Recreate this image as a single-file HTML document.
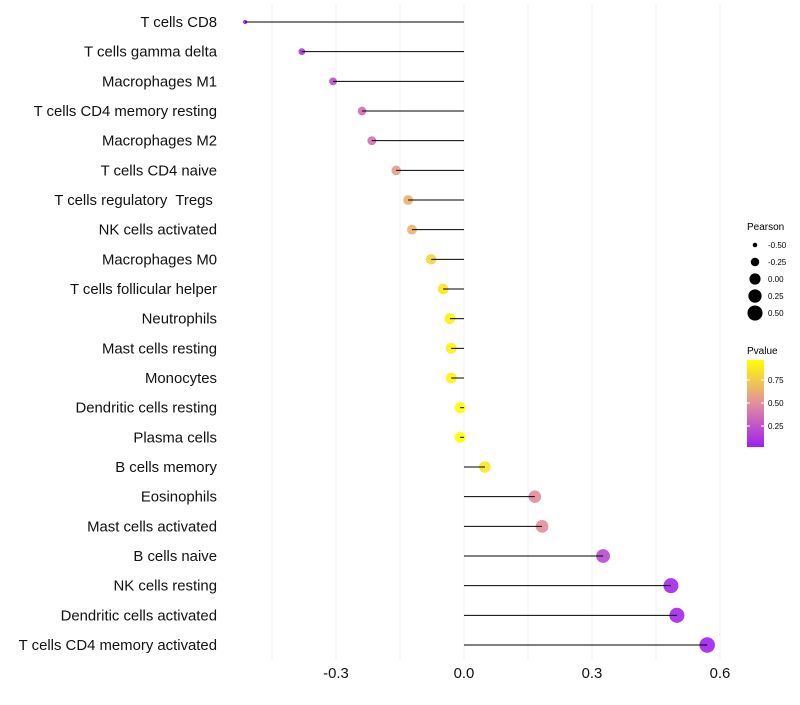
<!DOCTYPE html>
<html><head><meta charset="utf-8"><style>
body{margin:0;background:#fff;font-family:"Liberation Sans",Arial,sans-serif}
svg text{font-family:"Liberation Sans",Arial,sans-serif;white-space:pre}
</style></head><body>
<svg id="chart" width="800" height="700" viewBox="0 0 800 700" xmlns="http://www.w3.org/2000/svg" xml:space="preserve">
<defs><linearGradient id="pg" x1="0" y1="1" x2="0" y2="0">
<stop offset="0" stop-color="#A020F0"/><stop offset="0.5" stop-color="#E28E9E"/><stop offset="1" stop-color="#FFFF00"/></linearGradient></defs>
<g id="grid"></g>
<g id="marks"></g>
<g id="ylab"></g>
<g id="xlab"></g>
<g>
<text x="747" y="230" font-size="10" fill="#000">Pearson</text>
<g id="sizeleg"></g>
</g>
<g>
<text x="747" y="354" font-size="10" fill="#000">Pvalue</text>
<rect x="747" y="360" width="17" height="87" fill="url(#pg)"/>
<g id="colleg"></g>
</g>
</svg>
<script>
const categories=["T cells CD8","T cells gamma delta","Macrophages M1","T cells CD4 memory resting","Macrophages M2","T cells CD4 naive","T cells regulatory  Tregs ","NK cells activated","Macrophages M0","T cells follicular helper","Neutrophils","Mast cells resting","Monocytes","Dendritic cells resting","Plasma cells","B cells memory","Eosinophils","Mast cells activated","B cells naive","NK cells resting","Dendritic cells activated","T cells CD4 memory activated"];
const pearson=[-0.513,-0.38,-0.307,-0.239,-0.216,-0.159,-0.131,-0.122,-0.077,-0.049,-0.033,-0.030,-0.030,-0.009,-0.009,0.049,0.166,0.183,0.326,0.485,0.499,0.570];
const pvalue=[0.02,0.10,0.22,0.35,0.37,0.55,0.65,0.66,0.80,0.88,0.93,0.93,0.93,0.98,0.98,0.88,0.50,0.50,0.20,0.05,0.05,0.03];
const xTicks=[-0.3,0.0,0.3,0.6];
const xGrid=[-0.45,-0.3,-0.15,0,0.15,0.3,0.45,0.6];
const sizeLegendVals=[-0.5,-0.25,0,0.25,0.5];
const colorLegendVals=[0.75,0.5,0.25];

const NS="http://www.w3.org/2000/svg";
function mk(t,a,p){const e=document.createElementNS(NS,t);for(const k in a)e.setAttribute(k,a[k]);p.appendChild(e);return e;}
const x=v=>464+v*426.67;
const y=i=>22+i*(623/21);
const pmin=Math.min(...pvalue),pmax=Math.max(...pvalue);
const smin=Math.min(...pearson),smax=Math.max(...pearson);
const r=v=>{const t=(v-smin)/(smax-smin);return Math.sqrt(4.5+t*56);};
function lerp(a,b,t){return a.map((c,i)=>Math.round(c+(b[i]-c)*t));}
function col(p){const t=Math.max(0,Math.min(1,(p-pmin)/(pmax-pmin)));
const A=[160,32,240],M=[226,142,158],B=[255,255,0];
const c=t<0.5?lerp(A,M,t/0.5):lerp(M,B,(t-0.5)/0.5);return `rgb(${c})`;}
const grid=document.getElementById('grid'),marks=document.getElementById('marks');
xGrid.forEach(g=>{const l=mk('line',{x1:x(g),x2:x(g),y1:5,y2:660,stroke:'#f0f0f0','stroke-width':1},grid);
});
const yl=document.getElementById('ylab');
categories.forEach((c,i)=>{
 const cir=mk('circle',{cx:x(pearson[i]),cy:y(i),r:r(pearson[i]),fill:col(pvalue[i]),'fill-opacity':0.9},marks);
 
 const s=mk('line',{x1:x(0),x2:x(pearson[i]),y1:y(i),y2:y(i),stroke:'#000','stroke-width':1},marks);
 
 const t=mk('text',{x:217,y:y(i)+5,'text-anchor':'end','font-size':14.9,fill:'#111'},yl);t.textContent=c;
 
});
const xl=document.getElementById('xlab');
xTicks.forEach(v=>{const t=mk('text',{x:x(v),y:678,'text-anchor':'middle','font-size':14.9,fill:'#111'},xl);t.textContent=v.toFixed(1);
 });
const sl=document.getElementById('sizeleg');
sizeLegendVals.forEach((v,i)=>{const cy=245+i*17;
 const c=mk('circle',{cx:755,cy:cy,r:r(v),fill:'#000'},sl);
 const t=mk('text',{x:768,y:cy+3,'font-size':8,fill:'#000'},sl);t.textContent=v.toFixed(2);
 });
const cl=document.getElementById('colleg');
colorLegendVals.forEach(v=>{const cy=449-v*92;
 const t=mk('text',{x:768,y:cy+3,'font-size':8,fill:'#000'},cl);t.textContent=v.toFixed(2);
 
 mk('line',{x1:747,x2:750,y1:cy,y2:cy,stroke:'#fff'},cl);mk('line',{x1:761,x2:764,y1:cy,y2:cy,stroke:'#fff'},cl);});
</script>
</body></html>
